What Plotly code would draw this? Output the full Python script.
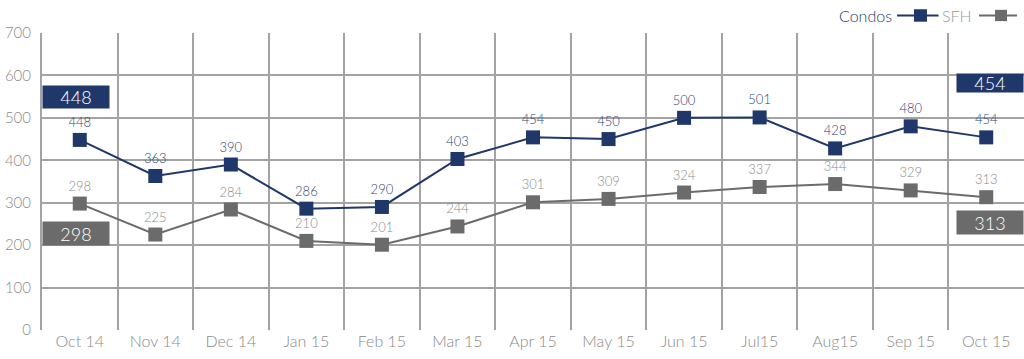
import plotly.graph_objects as go

months = ["Oct 14", "Nov 14", "Dec 14", "Jan 15", "Feb 15", "Mar 15", "Apr 15",
          "May 15", "Jun 15", "Jul15", "Aug15", "Sep 15", "Oct 15"]
condos = [448, 363, 390, 286, 290, 403, 454, 450, 500, 501, 428, 480, 454]
sfh = [298, 225, 284, 210, 201, 244, 301, 309, 324, 337, 344, 329, 313]
y_ticks = [0, 100, 200, 300, 400, 500, 600, 700]

NAVY = "#1f3769"
GRAY = "#6b6b6b"
GRID = "#a3a3a3"
FONT = "Lato"
TXT = "#8a8a8a"

fig = go.Figure()
fig.add_trace(go.Scatter(
    x=months, y=condos, mode="lines+markers+text",
    line=dict(color=NAVY, width=2),
    marker=dict(symbol="square", size=14, color=NAVY),
    text=[str(v) for v in condos], textposition="top center",
    textfont=dict(family=FONT, size=13, color="#2c4675", weight=300),
    cliponaxis=False, showlegend=False, name="Condos", hoverinfo="skip"))
fig.add_trace(go.Scatter(
    x=months, y=sfh, mode="lines+markers+text",
    line=dict(color=GRAY, width=2),
    marker=dict(symbol="square", size=14, color=GRAY),
    text=[str(v) for v in sfh], textposition="top center",
    textfont=dict(family=FONT, size=13, color="#8a8a8a", weight=300),
    cliponaxis=False, showlegend=False, name="SFH", hoverinfo="skip"))

# side value boxes
box_font = dict(family=FONT, size=18, color="white", weight=300)
fig.add_annotation(text=str(condos[0]), xref="paper", x=0, xanchor="left", yref="y", y=550,
                   showarrow=False, bgcolor=NAVY, width=64, height=20, font=box_font)
fig.add_annotation(text=str(sfh[0]), xref="paper", x=0, xanchor="left", yref="y", y=227,
                   showarrow=False, bgcolor=GRAY, width=64, height=21, font=box_font)
fig.add_annotation(text=str(condos[-1]), xref="paper", x=1, xanchor="right", yref="y", y=583,
                   showarrow=False, bgcolor=NAVY, width=64, height=16, font=box_font)
fig.add_annotation(text=str(sfh[-1]), xref="paper", x=1, xanchor="right", yref="y", y=254,
                   showarrow=False, bgcolor=GRAY, width=64, height=21, font=box_font)

# manual legend (text left of symbol)
fig.add_annotation(text="Condos", xref="paper", yref="paper", x=0.8677, y=1.059,
                   xanchor="right", yanchor="middle", showarrow=False,
                   font=dict(family=FONT, size=16, color="#1f3769", weight=300))
fig.add_shape(type="line", xref="paper", yref="paper", x0=0.8707, x1=0.9130, y0=1.059, y1=1.059,
              line=dict(color=NAVY, width=2))
fig.add_shape(type="rect", xref="paper", yref="paper", x0=0.8880, x1=0.9012, y0=1.038, y1=1.080,
              fillcolor=NAVY, line=dict(width=0))
fig.add_annotation(text="SFH", xref="paper", yref="paper", x=0.9490, y=1.059,
                   xanchor="right", yanchor="middle", showarrow=False,
                   font=dict(family=FONT, size=16, color="#9a9a9a", weight=300))
fig.add_shape(type="line", xref="paper", yref="paper", x0=0.9542, x1=0.9929, y0=1.059, y1=1.059,
              line=dict(color=GRAY, width=2))
fig.add_shape(type="rect", xref="paper", yref="paper", x0=0.9705, x1=0.9827, y0=1.040, y1=1.078,
              fillcolor=GRAY, line=dict(width=0))

fig.update_layout(
    width=1024, height=359,
    margin=dict(l=42, r=0, t=33, b=29, autoexpand=False),
    paper_bgcolor="white", plot_bgcolor="white",
    font=dict(family=FONT, color=TXT),
    hovermode=False,
)
fig.update_xaxes(
    type="category", range=[-0.5, 12.5], tickson="boundaries",
    showgrid=True, gridcolor=GRID, gridwidth=2,
    showline=False, ticks="", ticklen=0, automargin=False,
    tickfont=dict(family=FONT, size=16, color=TXT, weight=300),
    zeroline=False,
)
fig.update_yaxes(
    range=[0, 700], tickvals=y_ticks, ticktext=[str(v) for v in y_ticks],
    showgrid=True, gridcolor=GRID, gridwidth=2,
    showline=True, linecolor=GRID, linewidth=2, mirror=False,
    zeroline=False, ticks="", ticklabelstandoff=6, automargin=False,
    tickfont=dict(family=FONT, size=15, color=TXT, weight=300),
)

fig.write_html("out.html", config={"displayModeBar": False, "staticPlot": True},
               post_script="document.body.style.margin='0';document.body.style.overflow='hidden';")
